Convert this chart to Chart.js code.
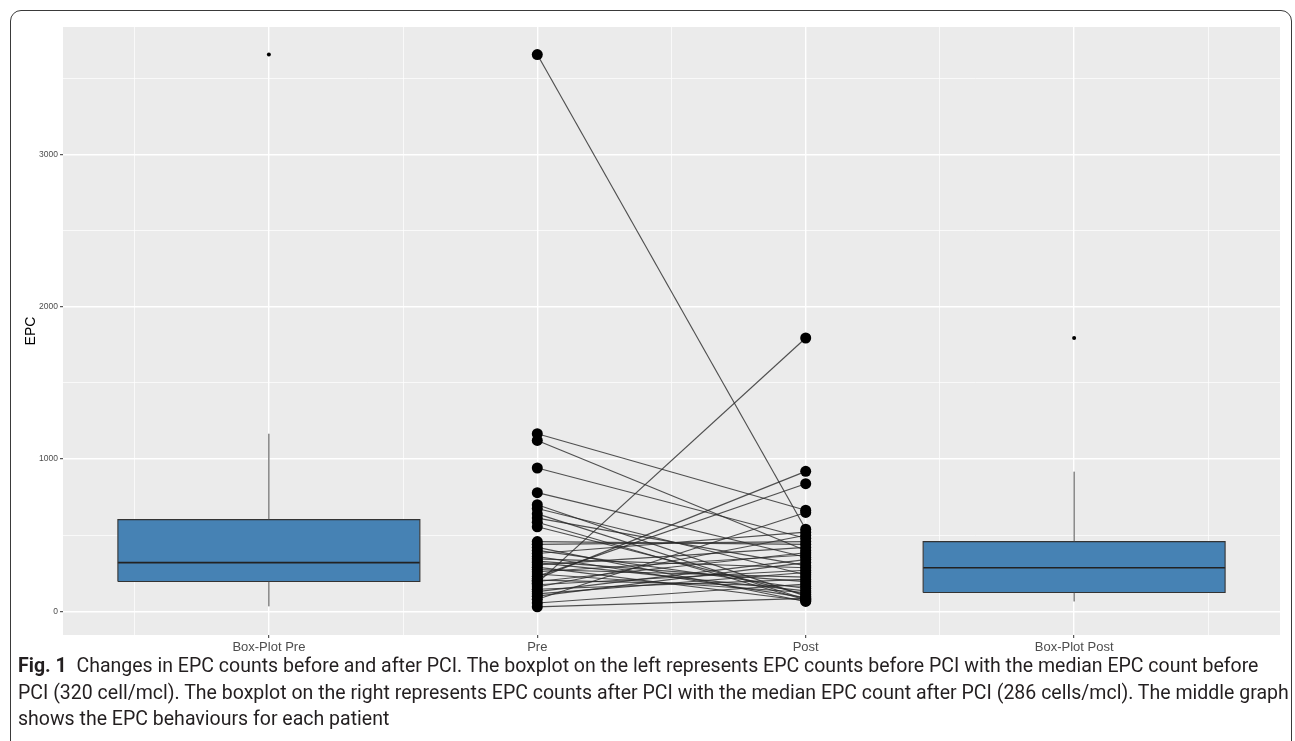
<!DOCTYPE html>
<html>
<head>
<meta charset="utf-8">
<script src="https://cdn.jsdelivr.net/npm/chart.js@4.4.0/dist/chart.umd.min.js"></script>
<style>
html, body { margin: 0; padding: 0; background: #fff; width: 1295px; height: 741px; overflow: hidden; }
#frame { position: absolute; left: 10px; top: 10px; width: 1282px; height: 800px; border: 1.5px solid #3a3a3a; border-radius: 11px; box-sizing: border-box; }
#chart { position: absolute; left: 0; top: 0; }
#caption { position: absolute; left: 18px; top: 652px; font-family: Roboto, "Noto Sans", sans-serif; font-size: 20px; line-height: 26.5px; color: #231f20; }
.cl { display: inline-block; white-space: nowrap; transform-origin: 0 50%; }
</style>
</head>
<body>
<div id="frame"></div>
<canvas id="chart" width="1295" height="660"></canvas>
<div id="caption">
  <div><span class="cl"><b>Fig. 1</b>&nbsp;&nbsp;Changes in EPC counts before and after PCI. The boxplot on the left represents EPC counts before PCI with the median EPC count before</span></div>
  <div><span class="cl">PCI (320 cell/mcl). The boxplot on the right represents EPC counts after PCI with the median EPC count after PCI (286 cells/mcl). The middle graph</span></div>
  <div><span class="cl">shows the EPC behaviours for each patient</span></div>
</div>
<script>
// categories on the x axis (positions 1..4)
var categories = ['Box-Plot Pre', 'Pre', 'Post', 'Box-Plot Post'];

// paired patient values, pre and post PCI (same order)
var preValues = [3654, 1166, 1122, 941, 779, 700, 675, 640, 612, 585, 555, 458, 440, 420, 400, 380, 360, 345, 330, 320,
                 305, 290, 275, 260, 245, 230, 215, 205, 196, 185, 175, 160, 145, 130, 115, 100, 80, 55, 30];
var postValues = [539, 664, 400, 480, 355, 100, 240, 80, 300, 75, 110, 440, 458, 65, 150, 520, 90, 286, 195, 135,
                  420, 70, 225, 370, 124, 838, 919, 165, 385, 1794, 270, 500, 210, 340, 255, 320, 649, 180, 85];

// boxplot stats: [lower whisker, Q1, median, Q3, upper whisker]
var boxPre = [33, 196, 320, 602, 1166];
var boxPost = [65, 124, 286, 458, 917];
var outliersPre = [3654];
var outliersPost = [1794];

var yMajorTicks = [0, 1000, 2000, 3000];
var yMinorTicks = [500, 1500, 2500, 3500];
var xMinorTicks = [0.5, 1.5, 2.5, 3.5, 4.5];

var boxHalf = 0.5625;
var boxFill = '#4682B4';
var inkColor = '#333333';

function boxDatasets(pos, stats, outliers) {
    var x0 = pos - boxHalf, x1 = pos + boxHalf;
    var base = { type: 'line', pointRadius: 0, fill: false, order: 5 };
    return [
        Object.assign({}, base, { data: [{x: x0, y: stats[3]}, {x: x1, y: stats[3]}], fill: { value: stats[1] },
            backgroundColor: boxFill, borderWidth: 0, order: 6 }),
        Object.assign({}, base, { data: [{x: pos, y: stats[3]}, {x: pos, y: stats[4]}], borderColor: '#4a4a4a', borderWidth: 1 }),
        Object.assign({}, base, { data: [{x: pos, y: stats[0]}, {x: pos, y: stats[1]}], borderColor: '#4a4a4a', borderWidth: 1 }),
        Object.assign({}, base, { data: [{x: x0, y: stats[1]}, {x: x1, y: stats[1]}, {x: x1, y: stats[3]}, {x: x0, y: stats[3]}, {x: x0, y: stats[1]}],
            borderColor: inkColor, borderWidth: 1.1 }),
        Object.assign({}, base, { data: [{x: x0, y: stats[2]}, {x: x1, y: stats[2]}], borderColor: '#222', borderWidth: 1.6 }),
        Object.assign({}, base, { data: outliers.map(function(v) { return {x: pos, y: v}; }), showLine: false,
            pointRadius: 2, pointBackgroundColor: '#000', pointBorderWidth: 0 })
    ];
}

var datasets = [];
datasets = datasets.concat(boxDatasets(1, boxPre, outliersPre));
datasets = datasets.concat(boxDatasets(4, boxPost, outliersPost));

preValues.forEach(function(v, i) {
    datasets.push({ type: 'line', data: [{x: 2, y: v}, {x: 3, y: postValues[i]}],
        borderColor: 'rgba(40,40,40,0.8)', borderWidth: 1.15, pointRadius: 0, fill: false, order: 2 });
});
datasets.push({ type: 'line', showLine: false, order: 1,
    data: preValues.map(function(v) { return {x: 2, y: v}; }).concat(postValues.map(function(v) { return {x: 3, y: v}; })),
    pointRadius: 5.5, pointBackgroundColor: '#000', pointBorderWidth: 0 });

var panelBg = {
    id: 'panelBg',
    beforeDraw: function(chart) {
        var a = chart.chartArea, ctx = chart.ctx;
        ctx.save();
        ctx.fillStyle = '#EBEBEB';
        ctx.fillRect(a.left, a.top, a.right - a.left, a.bottom - a.top);
        ctx.restore();
    }
};

function isMajorY(v) { return yMajorTicks.indexOf(v) >= 0; }
function isMajorX(v) { return Number.isInteger(v); }

new Chart(document.getElementById('chart'), {
    type: 'line',
    data: { datasets: datasets },
    plugins: [panelBg],
    options: {
        responsive: false,
        animation: false,
        layout: { padding: { top: 27, right: 15, left: 0, bottom: 0 } },
        plugins: { legend: { display: false }, tooltip: { enabled: false } },
        scales: {
            x: {
                type: 'linear', min: 0.233, max: 4.767,
                afterBuildTicks: function(s) {
                    var t = xMinorTicks.concat([1, 2, 3, 4]).sort(function(a, b) { return a - b; });
                    s.ticks = t.map(function(v) { return {value: v}; });
                },
                afterFit: function(s) { s.height = 25; },
                border: { display: false },
                grid: {
                    color: '#ffffff',
                    lineWidth: function(c) { return c.tick && isMajorX(c.tick.value) ? 1.4 : 0.7; },
                    tickColor: function(c) { return c.tick && isMajorX(c.tick.value) ? inkColor : 'rgba(0,0,0,0)'; },
                    tickLength: 3, tickWidth: 1
                },
                ticks: {
                    autoSkip: false, maxRotation: 0, padding: 2, color: '#4d4d4d',
                    font: { family: 'Liberation Sans, Arial, sans-serif', size: 13 },
                    callback: function(v) { return isMajorX(v) ? categories[v - 1] : ''; }
                }
            },
            y: {
                type: 'linear', min: -155, max: 3835,
                afterBuildTicks: function(s) {
                    var t = yMajorTicks.concat(yMinorTicks).sort(function(a, b) { return a - b; });
                    s.ticks = t.map(function(v) { return {value: v}; });
                },
                afterFit: function(s) { s.width = 63; },
                border: { display: false },
                title: { display: true, text: 'EPC', color: '#000', padding: { top: 23, bottom: 0 },
                    font: { family: 'Liberation Sans, Arial, sans-serif', size: 14 } },
                grid: {
                    color: '#ffffff',
                    lineWidth: function(c) { return c.tick && isMajorY(c.tick.value) ? 1.4 : 0.7; },
                    tickColor: function(c) { return c.tick && isMajorY(c.tick.value) ? inkColor : 'rgba(0,0,0,0)'; },
                    tickLength: 3, tickWidth: 1
                },
                ticks: {
                    autoSkip: false, padding: 2, color: '#4d4d4d',
                    font: { family: 'Liberation Sans, Arial, sans-serif', size: 8.5 },
                    callback: function(v) { return isMajorY(v) ? String(v) : ''; }
                }
            }
        }
    }
});

// squeeze caption lines to the condensed width of the original
var lines = document.querySelectorAll('.cl');
var targets = [1244, 1267];
var k = 0;
targets.forEach(function(w, i) { k += w / lines[i].getBoundingClientRect().width; });
k = k / targets.length;
lines.forEach(function(el) { el.style.transform = 'scaleX(' + k.toFixed(4) + ')'; });
</script>
</body>
</html>
